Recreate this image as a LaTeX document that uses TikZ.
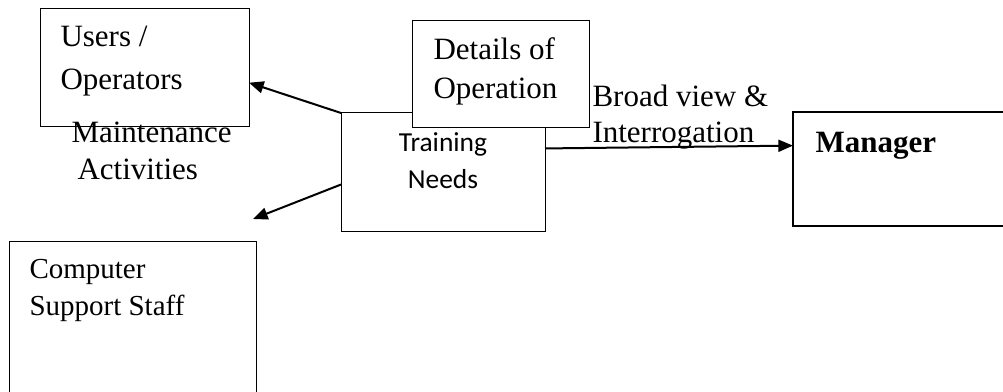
\documentclass[tikz,border=0pt]{standalone}
\usepackage{fontspec}
\setmainfont{Liberation Serif}
\newfontfamily\calibri{Carlito}
\usetikzlibrary{arrows.meta}

\tikzset{every picture/.style={line width=0.75pt}}
\tikzset{
  box/.style={draw, rectangle, inner sep=0pt, outer sep=0pt, anchor=north west},
  lbl/.style={inner sep=0pt, anchor=base west, align=left},
  flow/.style={line width=1.5pt, -{Triangle[length=11pt,width=9pt]}},
}

\begin{document}
\begin{tikzpicture}[x=0.75pt,y=0.75pt,yscale=-1,xscale=1]
\useasboundingbox (0,0) rectangle (1003,392);

% Text Node (base = last line)
\node [lbl, font=\fontsize{23.25}{27.75}\selectfont] (mainttxt) at (71,180) {Maintenance\\\hspace*{4.5pt}Activities};

%Shape: Rectangle [users]
\node [box, minimum width=156.75pt, minimum height=88.5pt] (users) at (40,9) {};
%Shape: Rectangle [training]
\node [box, minimum width=153pt, minimum height=88.5pt] (training) at (341,113) {};
%Shape: Rectangle [details]
\node [box, fill=white, minimum width=132.75pt, minimum height=80.25pt] (details) at (412,21) {};
%Shape: Rectangle [manager]
\node [box, line width=1.5pt, minimum width=165pt, minimum height=85.5pt] (manager) at (793,112) {};
%Shape: Rectangle [staff]
\node [box, minimum width=185.25pt, minimum height=120pt] (staff) at (9,241) {};

\coordinate (staffpt) at (253,219);

%Straight Lines
\draw [flow] (training.north west) -- (users.-8);
\draw [flow] (training.187) -- (staffpt);
\draw [flow] (training.13) -- (manager.168);

% Text Node
\node [lbl, font=\fontsize{23.25}{32.25}\selectfont] (userstxt) at (60,90) {Users /\\Operators};
% Text Node
\node [lbl, font=\fontsize{23.25}{29.25}\selectfont] (detailstxt) at (433,99) {Details of\\Operation};
% Text Node
\node [inner sep=0pt, anchor=base, align=center, font=\calibri\fontsize{20.6}{27.75}\selectfont] (trainingtxt) at (443,189) {Training\\Needs};
% Text Node
\node [lbl, font=\fontsize{23.25}{27}\selectfont] (broadtxt) at (592,143) {Broad view \&\\Interrogation};
% Text Node
\node [lbl, font=\bfseries\fontsize{23.25}{27}\selectfont] (managertxt) at (815,153) {Manager};
% Text Node
\node [lbl, font=\fontsize{21.75}{27.75}\selectfont] (stafftxt) at (29,315) {Computer\\Support Staff};

\end{tikzpicture}
\end{document}
